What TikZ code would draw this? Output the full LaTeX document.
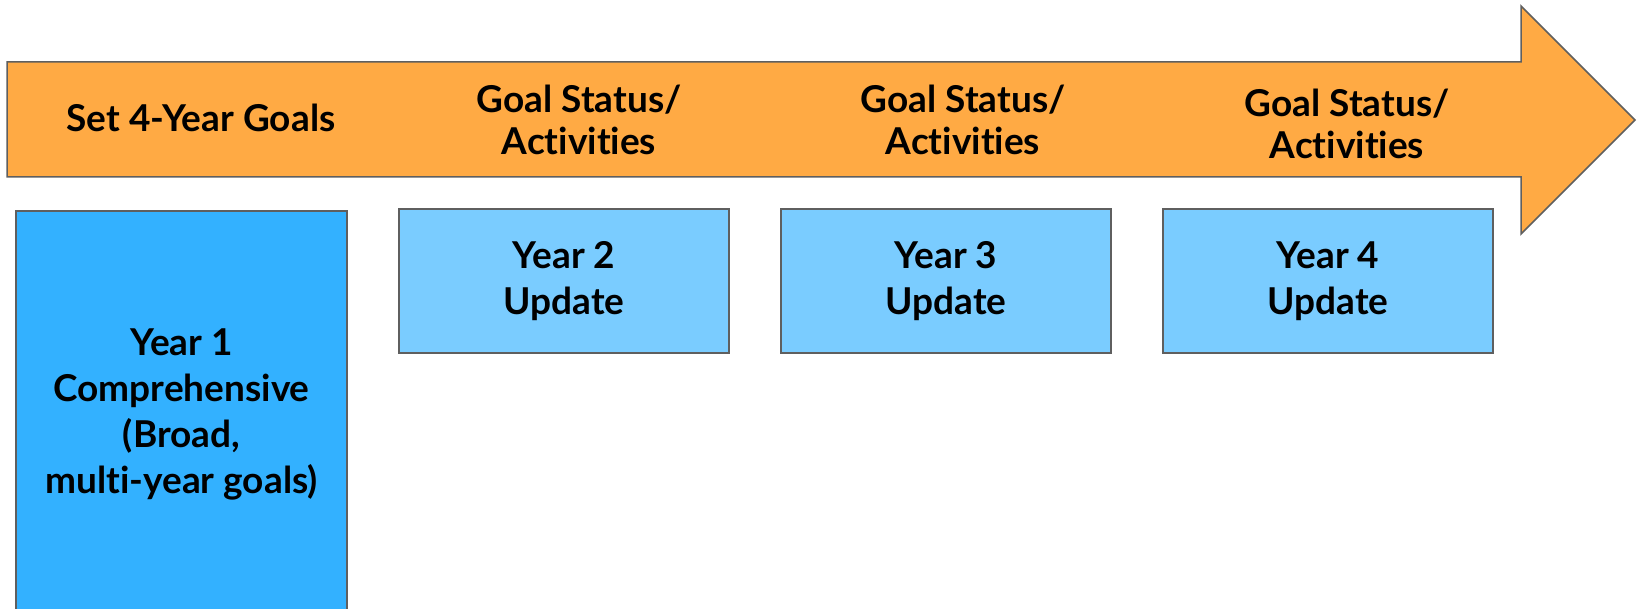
\documentclass[tikz,border=0pt]{standalone}
\usepackage{fontspec}
\setmainfont{Lato}[Ligatures=NoCommon]
\definecolor{arroworange}{HTML}{FFAA44}
\definecolor{firstblue}{HTML}{33B1FF}
\definecolor{updateblue}{HTML}{7ACCFF}
\definecolor{edgegray}{HTML}{5F5F5F}
\begin{document}
\begin{tikzpicture}[x=1pt,y=-1pt,
  yearbox/.style={draw=edgegray,line width=1.5pt,minimum width=330pt,minimum height=144pt,
    font=\fontsize{37}{46}\selectfont\bfseries,align=center,inner sep=0pt},
  arrowtext/.style={font=\fontsize{37}{42}\selectfont\bfseries,align=center}]
\clip (0,0) rectangle (1637,609);
% timeline arrow
\draw[draw=edgegray,line width=1.5pt,fill=arroworange,line join=miter]
  (7,62) -- (1521,62) -- (1521,6) -- (1635,120) -- (1521,234) -- (1521,177) -- (7,177) -- cycle;
\node[arrowtext] (goals) at (201,118) {Set 4-Year Goals};
\node[arrowtext] (status2) at (579,120) {Goal Status/\\Activities};
\node[arrowtext] (status3) at (963,120) {Goal Status/\\Activities};
\node[arrowtext] (status4) at (1347,124) {Goal Status/\\Activities};
% yearly boxes
\node[yearbox,fill=firstblue,minimum width=331pt,minimum height=406pt] (year1) at (181.5,414)
  {Year 1\\Comprehensive\\(Broad,\\multi-year goals)};
\node[yearbox,fill=updateblue] (year2) at (564,281) {Year 2\\Update};
\node[yearbox,fill=updateblue] (year3) at (946,281) {Year 3\\Update};
\node[yearbox,fill=updateblue] (year4) at (1328,281) {Year 4\\Update};
\end{tikzpicture}
\end{document}
